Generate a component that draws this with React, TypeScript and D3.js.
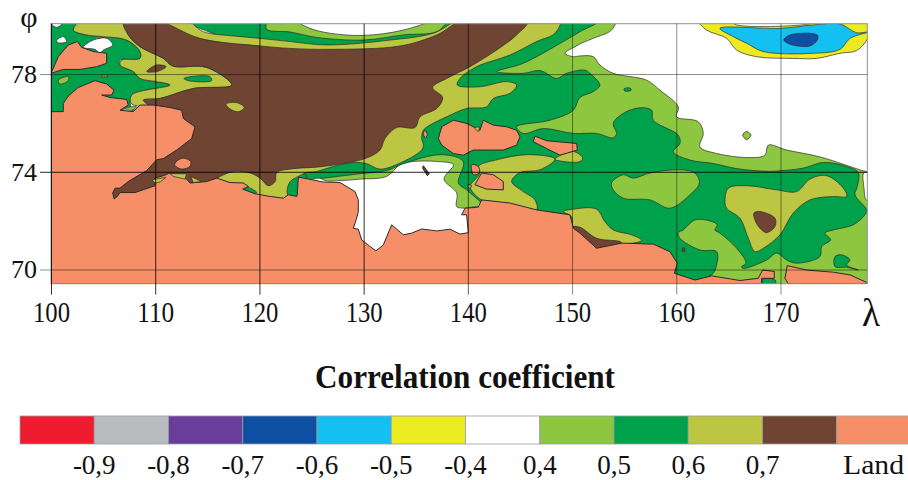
import React, { useEffect, useRef } from "react";
import * as d3 from "d3";

type Pt = [number, number];

// lon / lat, one list per contour area
const lonTicks = [100, 110, 120, 130, 140, 150, 160, 170];
const latTicks = [70, 74, 78];
const legendColors = ["#ee1c2e", "#b8bcbe", "#6a3d9a", "#0e4fa3", "#14c0f2", "#ecea20", "#ffffff", "#8dc63f", "#00a14b", "#bcc643", "#6f4433", "#f68e68"];
const legendLabels = ["-0,9", "-0,8", "-0,7", "-0,6", "-0,5", "-0,4", "0,4", "0,5", "0,6", "0,7"];

const lightGreenMain: Pt[] = [[120.54,80.2],[154.11,80.2],[153.79,79.8],[152.03,79.46],[150.75,79.23],[150.43,79.15],[149.32,78.85],[150.12,78.71],[150.75,78.74],[152.03,78.71],[152.67,78.37],[153.95,78.03],[157.15,77.75],[158.43,77.34],[160.19,76.66],[160.03,76.25],[162.11,76.05],[162.59,75.57],[162.27,75.02],[163.87,74.75],[167.07,74.58],[168.51,74.68],[168.83,75.09],[170.59,74.89],[173.79,74.61],[178.33,74],[178.6,74],[178.6,69.2],[159,69.2],[141.3,72],[141,72.55],[139.72,72.51],[138.93,72.58],[138.93,73.13],[137.71,73.7],[138.61,74.29],[137.01,74.42],[134.77,74.42],[133.49,74.29],[132.21,73.81],[129.65,73.7],[127.73,73.64],[126.13,73.67],[124.5,74.49],[120.54,78.5]];
const lightGreenWest: Pt[] = [[99.5,80.2],[101.5,80.2],[101.18,79.8],[101.82,79.6],[104.38,79.46],[106.14,79.46],[107.42,79.12],[107.1,78.85],[105.66,78.85],[104.7,78.92],[103.42,79.19],[100.86,79.46],[99.5,79.6]];
const lightSpotA: Pt[] = [[100.7,77.75],[101.66,77.89],[101.66,77.73],[100.86,77.59]];
const lightSpotB: Pt[] = [[107.74,76.66],[108.22,76.66],[107.74,76.52],[107.1,76.59]];
const lightCentral: Pt[] = [[153.79,73.54],[154.91,73.88],[155.87,73.74],[157.47,73.95],[160.35,74.08],[161.79,73.95],[162.21,73.54],[161.31,73.06],[159.39,72.51],[157.47,72.85],[154.91,72.92],[153.95,73.26]];
const lightDot: Pt[] = [[166.37,75.5],[166.75,75.65],[167.17,75.5],[166.75,75.32]];

const greenMain: Pt[] = [[113.02,80.2],[120.54,80.2],[120.7,79.83],[122.94,79.72],[125.49,79.5],[129.97,79.39],[133.81,79.6],[137.01,79.73],[138.45,80.2],[152.61,80.2],[150.75,79.73],[149.16,79.33],[145.32,78.44],[142.76,78.1],[145.32,78.03],[146.92,78.14],[148.52,77.82],[149.48,78.03],[151.24,78.16],[151.71,78.03],[152.67,77.55],[152.03,77.28],[150.75,77.04],[150.12,76.52],[147.88,76.11],[144.68,75.84],[145.32,75.57],[147.24,75.77],[150.11,75.57],[152.35,75.57],[153.95,75.39],[154.27,75.57],[153.95,75.98],[154.91,76.39],[156.51,76.62],[157.63,76.52],[157.79,76.11],[160.19,75.5],[160.35,75.16],[159.71,74.82],[161.31,74.48],[163.55,74.34],[165.79,74.13],[168.67,74.02],[169.95,74.04],[172.19,74.15],[174.11,74.38],[176.35,74.22],[177.47,73.97],[177.37,73.4],[177.15,73.06],[178.27,72.44],[178.11,72.24],[176.99,71.83],[175.07,71.62],[174.27,71.49],[174.81,71.21],[173.95,70.94],[173.79,70.53],[171.55,70.26],[170.59,70.39],[169.63,70.67],[168.67,70.39],[166.43,70.05],[166.27,70.12],[166.69,70.26],[165.79,70.87],[164.19,71.49],[163.71,71.62],[163.93,71.83],[163.23,71.99],[161.79,72.03],[160.67,71.62],[160.19,71.51],[160.35,71.28],[162.27,70.8],[163.87,70.73],[163.87,70.19],[163.39,69.78],[161.79,69.57],[159.87,69.85],[155,70.5],[143,72.2],[141,72.85],[139.88,73.26],[139.09,73.54],[139.56,74.42],[137.49,74.7],[133.81,74.33],[132.21,74.05],[129.65,73.92],[126.13,73.74],[125.17,73.7],[124.5,73.4],[123,75],[120.5,78.5]];
const greenWest: Pt[] = [[99.5,80.3],[102.46,80.2],[102.14,79.8],[103.42,79.6],[107.26,79.39],[108.54,78.92],[108.54,78.64],[106.62,78.57],[106.62,78.37],[107.9,78.1],[108.54,77.82],[111.42,77.55],[107.74,77.14],[107.74,76.6],[108.2,76.5],[99.5,76.4]];
const greenSpotA: Pt[] = [[112.76,77.82],[113.98,77.92],[115.26,77.89],[115.42,77.73],[113.18,77.73]];
const greenSpotB: Pt[] = [[123.6,73.78],[122.95,73.6],[122.65,73.2],[122.8,73.0],[123.3,72.98],[124.3,72.7],[124.4,73.9]];
const greenSpotC: Pt[] = [[118.46,73.4],[118.94,73.37],[119.74,73.15],[118.94,73.13]];
const greenSpotD: Pt[] = [[154.98,77.39],[155.55,77.43],[155.68,77.34],[155.07,77.3]];
const greenSpotE: Pt[] = [[175.23,70.53],[175.87,70.6],[176.67,70.39],[176.35,70.19],[177.47,69.98],[176.35,70.09],[175.23,70.12]];
const greenSpotF: Pt[] = [[168.29,69.6],[169.4,69.6],[169.56,69.46],[168.29,69.44]];

const oliveMain: Pt[] = [[139.25,80.2],[148.84,80.2],[148.36,79.67],[146.6,79.33],[144.04,78.78],[140.84,78.3],[139.25,77.82],[138.99,77.55],[141.16,77.48],[143.72,77.69],[144.68,77.55],[144.04,77.21],[142.44,77],[141.8,76.66],[139.88,76.59],[137.97,76.25],[136.37,75.91],[135.73,75.7],[135.57,75.36],[135.73,75.09],[135.57,74.89],[133.81,74.42],[131.57,74.11],[130.29,74.33],[129.01,74.38],[127.09,74.22],[125.49,74.01],[124.2,73.9],[124.2,72.8],[118.9,73.1],[116,73.5],[115.9,73.74],[117.5,74.36],[114.3,78.57],[110.14,80.2],[113.02,80.2],[114.62,79.73],[117.5,79.56],[120.06,79.46],[122.94,79.33],[126.45,79.19],[132.53,79.39],[136.69,79.67]];
const oliveWest: Pt[] = [[102.14,79.8],[103.1,80.2],[106.94,80.2],[107.42,79.6],[108.54,79.12],[110.78,78.64],[111.68,78.33],[114.94,78.27],[117.34,77.55],[113.66,77.41],[110.46,77],[108.86,76.93],[109.34,76.73],[107.74,76.77],[107.74,77.14],[111.42,77.55],[110.14,77.69],[108.54,77.82],[107.9,78.1],[106.62,78.37],[106.78,78.57],[108.54,78.64],[108.54,78.92],[107.26,79.39],[105.02,79.53],[103.42,79.6]];
const oliveKotelny: Pt[] = [[141,74.22],[142.76,74.49],[145.8,74.7],[148.36,74.52],[146.92,74.08],[145,73.97],[144.2,73.6],[145.32,73.19],[146.44,72.85],[146.6,72.44],[144.04,72.65],[141.32,72.85],[140.2,73.4],[140.68,73.67],[141.16,73.95]];
const oliveLens: Pt[] = [[148.36,74.52],[150.12,74.83],[151.02,74.56],[150.76,74.42],[149.16,74.42]];
const oliveCoast: Pt[] = [[149.16,72.37],[150.11,72.47],[152.35,72.47],[153.15,71.96],[153.95,71.62],[155.71,71.42],[156.67,71.19],[154.75,71.01],[152.35,70.83],[150.11,71.62],[149.95,72.17]];
const oliveEast: Pt[] = [[164.67,72.85],[165,73.33],[166.75,73.43],[169.63,73.26],[171.55,73.19],[172.83,73.7],[174.43,73.84],[176.03,73.33],[176.35,72.99],[175.07,72.99],[172.83,72.85],[171.23,72.31],[169.95,71.42],[168.35,70.87],[167.55,70.73],[166.91,71.28],[166.11,72.1],[164.83,72.51]];
const oliveSpot: Pt[] = [[116.79,76.77],[117.82,76.83],[118.55,76.63],[117.98,76.46],[117.18,76.57]];
const oliveShoreA: Pt[] = [[109.69,73.67],[111.04,73.77],[110.46,73.58],[109.98,73.54]];
const oliveShoreB: Pt[] = [[111.42,73.92],[113.02,73.92],[112.86,73.7],[111.74,73.81]];
const oliveShoreC: Pt[] = [[113.4,73.81],[114.46,73.6],[113.66,73.56]];
const oliveShoreD: Pt[] = [[140.59,75.81],[141.16,75.84],[141,75.64]];

const brownMain: Pt[] = [[106.94,80.2],[110.14,80.2],[114.3,79.46],[120.06,79.15],[122.94,79.05],[126.77,79.01],[133.49,79.15],[137.01,79.6],[139.56,80.2],[145.8,80.2],[144.68,79.6],[142.76,78.98],[140.2,78.3],[137.97,77.82],[136.62,77.45],[137.58,77.04],[137.01,76.59],[135.41,76.25],[134.93,75.81],[133.17,75.81],[132.05,75.36],[131.57,74.89],[130.13,74.54],[126.13,74.22],[122.94,74.11],[121.66,73.97],[121.5,73.6],[120.86,73.43],[120.06,73.74],[119.1,73.95],[117.5,74.01],[115.9,73.74],[114,73.3],[108,72.9],[105.5,72.8],[105.6,73.6],[109,74.5],[112,76],[109.5,76.6],[109.34,76.73],[108.86,76.93],[110.46,77],[113.66,77.41],[117.34,77.55],[114.94,78.27],[111.68,78.33],[110.78,78.64],[108.54,79.12],[107.42,79.6]];
const brownCoast: Pt[] = [[149.95,71.73],[150.75,71.73],[152.35,71.28],[154.75,71.1],[154.27,70.8],[152.35,70.8],[149.95,71.35]];
const brownEast: Pt[] = [[167.45,72.31],[168.03,72.37],[169.47,72.1],[169.47,71.76],[168.67,71.51],[168.03,71.69],[167.55,72.03]];
const brownSmall: Pt[] = [[109.18,78.1],[110.14,78.37],[111.04,78.3],[110.14,78.1]];
const brownDot: Pt[] = [[160.6,70.88],[160.8,70.88],[160.8,70.74],[160.6,70.74]];
const brownSliver: Pt[] = [[135.73,74.25],[136.3,73.92],[136.11,73.84],[135.66,74.15]];

const whiteNorth: Pt[] = [[123.57,80.2],[136.37,80.2],[133.81,79.8],[129.97,79.58],[126.77,79.67],[124.85,79.87]];
const whiteSpotA: Pt[] = [[103.1,79.09],[104.06,79.39],[105.34,79.46],[105.92,79.19],[105.02,78.98],[104.7,78.85],[104.22,79.01]];
const whiteSpotB: Pt[] = [[100.54,79.37],[101.18,79.53],[101.5,79.33],[100.7,79.28]];
const whiteSpotC: Pt[] = [[100,80.1],[101.34,80.2],[100.54,79.91]];
const whiteSpotD: Pt[] = [[106.78,76.52],[107.42,76.59],[107.9,76.48]];
const whiteEdge: Pt[] = [[178,73.96],[178.6,73.96],[178.6,72.85],[178.22,72.85],[178.02,73.3]];

const yellowNorth: Pt[] = [[162.11,80.2],[162.91,79.8],[164.83,79.46],[165.79,78.98],[167.71,78.71],[171.23,78.64],[173.47,78.64],[175.71,78.85],[177.31,78.96],[178.33,79.42],[178.7,79.8],[178.7,80.2],[174.11,80.2],[172.51,80.03],[165.79,80.01],[164.99,80.2]];
const yellowSpot: Pt[] = [[104.86,77.96],[105.41,77.96],[105.41,77.89],[104.86,77.89]];
const cyanNorth: Pt[] = [[164.19,79.87],[169.95,79.87],[173.15,80.01],[175.71,80.05],[177.31,79.69],[178.7,79.75],[176.67,79.46],[175.71,79.01],[173.15,78.85],[168.35,78.92],[166.75,79.26],[165.47,79.53]];
const blueNorth: Pt[] = [[170.33,79.39],[170.91,79.6],[173.53,79.6],[173.53,79.39],[172.83,79.15],[170.91,79.22]];

const landMain: Pt[] = [[100,69.42],[100,76.46],[101.18,76.46],[101.18,76.8],[101.66,77.1],[102.62,77.45],[104.22,77.73],[105.34,77.59],[106.05,77.34],[105.82,77.14],[104.86,77.14],[105.66,77.04],[106.46,77],[107.26,76.96],[107.42,76.73],[106.62,76.52],[107.9,76.46],[108.54,76.73],[109.82,76.73],[111.42,76.63],[112.54,76.52],[112.7,76.18],[113.82,75.84],[113.5,75.36],[112.06,74.89],[110.78,74.54],[110.14,74.49],[109.18,74.05],[107.42,73.6],[106.62,73.33],[106.14,73.33],[105.92,73.13],[106.05,72.89],[106.37,72.99],[106.62,73.15],[108.06,73.15],[109.98,73.43],[109.98,73.74],[110.78,73.84],[111.42,73.95],[113.02,73.7],[113.34,73.54],[114.94,73.6],[115.9,73.74],[117.18,73.56],[118.46,73.54],[118.94,73.4],[118.39,73.29],[119.58,73.1],[121.02,72.99],[122.3,72.92],[122.78,73.06],[123.58,72.99],[123.63,73.06],[123.73,73.78],[125.11,73.67],[126.13,73.58],[127.73,73.56],[129.17,73.19],[129.49,72.85],[129.49,72.37],[129.33,72.1],[129.01,71.69],[129.49,71.65],[129.81,71.21],[131.18,70.76],[131.89,71.01],[132.69,71.83],[133.81,71.42],[134.61,71.49],[135.57,71.66],[137.01,71.58],[138.29,71.65],[139.25,71.45],[140.04,71.51],[139.88,72.24],[139.4,72.24],[139.72,72.51],[141,72.55],[141.32,72.85],[144.04,72.72],[146.6,72.44],[149.8,72.24],[150.12,71.69],[150.75,71.49],[152.35,70.87],[154.75,71.08],[157.79,71.04],[159.39,70.73],[160.1,70.26],[159.81,69.85],[161.79,69.57],[163.39,69.74],[166.11,69.55],[167.87,69.64],[168.29,69.98],[169.4,69.92],[169.4,69.64],[168.19,69.64],[168.19,69.42]];
const landEast: Pt[] = [[170.75,69.42],[170.43,69.64],[170.65,70.16],[172.51,69.98],[175.07,69.89],[176.67,69.78],[178.33,69.46],[178.33,69.42]];
const landNorth: Pt[] = [[100,78.03],[100.7,78.71],[101.66,79.19],[102.53,79.33],[102.94,79.09],[104.06,78.92],[105.34,78.85],[105.34,78.44],[104.38,78.3],[102.78,78.19],[101.18,78.19]];
const landIslet: Pt[] = [[111.9,74.36],[112.64,74.56],[113.4,74.42],[113.34,74.22],[112.54,74.11],[111.9,74.25]];
const landKotelny: Pt[] = [[137.49,75.84],[138.61,76.11],[139.88,75.98],[140.68,75.81],[141.16,75.7],[141.48,76.11],[142.44,75.91],[143.72,75.84],[144.68,75.7],[145,75.43],[144.68,75.09],[143.4,74.89],[142.12,74.89],[140.52,74.89],[139.56,74.68],[138.61,74.75],[137.49,75.09],[137.17,75.36]];
const landFaddey: Pt[] = [[146.44,75.46],[147.56,75.27],[150.44,75.16],[150.51,74.89],[148.84,74.68],[147.56,74.95],[146.28,75.23]];
const landDotA: Pt[] = [[135.89,75.7],[136.11,75.5],[135.89,75.4],[135.73,75.57]];
const landDotB: Pt[] = [[140.36,74.29],[141,74.22],[141.1,73.95],[140.52,73.88],[140.36,74.08]];
const landLyakhov: Pt[] = [[141.32,73.95],[142.44,73.88],[143.4,73.6],[143.4,73.26],[141.8,73.29],[140.68,73.47]];
const landDotC: Pt[] = [[140.04,73.47],[140.36,73.43],[140.2,73.33],[139.98,73.37]];

const GREEN_L = "#8dc63f", GREEN = "#00a14b", OLIVE = "#bcc643", BROWN = "#6f4433", LAND = "#f68e68";

export default function App() {
  const svgRef = useRef<SVGSVGElement>(null);

  useEffect(() => {
    const svg = d3.select(svgRef.current);
    svg.selectAll("*").remove();
    const serif = "'Liberation Serif', serif";

    const x = d3.scaleLinear().domain([100, 178.33]).range([51, 867.3]);
    const y = d3.scaleLinear().domain([69.42, 80.06]).range([283.7, 23.7]);

    svg.append("clipPath").attr("id", "plot").append("rect")
      .attr("x", x(100)).attr("y", y(80.06))
      .attr("width", x(178.33) - x(100)).attr("height", y(69.42) - y(80.06));

    const map = svg.append("g").attr("clip-path", "url(#plot)");
    map.append("rect").attr("x", 0).attr("y", 0).attr("width", 908).attr("height", 300).attr("fill", "#fff");

    const smooth = d3.line<Pt>().x((d) => x(d[0])).y((d) => y(d[1])).curve(d3.curveCatmullRomClosed.alpha(0.5));
    const jagged = d3.line<Pt>().x((d) => x(d[0])).y((d) => y(d[1])).curve(d3.curveLinearClosed);

    const draw = (areas: Pt[][], color: string, line = smooth, edge = 0.7) => {
      map.append("g").selectAll("path").data(areas).enter().append("path")
        .attr("d", (d) => line(d))
        .attr("fill", color)
        .attr("stroke", "#2b2b2b")
        .attr("stroke-width", edge)
        .attr("stroke-linejoin", "round");
    };

    draw([lightGreenMain, lightGreenWest], GREEN_L);
    draw([greenMain, greenWest], GREEN);
    draw([lightSpotA, lightCentral, lightDot], GREEN_L);
    draw([oliveMain, oliveWest, oliveKotelny, oliveLens, oliveCoast, oliveEast], OLIVE);
    draw([brownMain, brownCoast, brownEast, brownSmall, brownDot], BROWN);
    draw([oliveSpot], OLIVE);
    draw([greenSpotA, greenSpotB, greenSpotC, greenSpotD, greenSpotE, greenSpotF], GREEN);
    draw([whiteNorth, whiteSpotA, whiteSpotB, whiteSpotC, whiteSpotD, whiteEdge], "#fff");
    draw([lightSpotB], GREEN_L);
    draw([yellowNorth], "#ecea20");
    draw([yellowSpot], OLIVE, jagged);
    draw([cyanNorth], "#14c0f2");
    draw([blueNorth], "#0e4fa3");
    draw([landMain, landEast, landNorth, landKotelny, landFaddey, landLyakhov], LAND, jagged, 1);
    draw([landIslet, landDotA, landDotB, landDotC], LAND, smooth, 0.9);
    draw([oliveShoreA, oliveShoreB, oliveShoreC, oliveShoreD], OLIVE, jagged);
    draw([brownSliver], BROWN, jagged, 1);

    // grid lines run past the frame as ticks
    const meridianAlpha = (v: number) => (v <= 130 ? 0.8 : v === 140 ? 0.6 : 0.45);
    const parallelAlpha = (v: number) => (v === 74 ? 0.85 : 0.45);

    svg.append("rect")
      .attr("x", x(100)).attr("y", y(80.06))
      .attr("width", x(178.33) - x(100)).attr("height", y(69.42) - y(80.06))
      .attr("fill", "none").attr("stroke", "#8e9399").attr("stroke-width", 1);

    const bottom = svg.append("g").attr("transform", `translate(0,${y(80.06)})`)
      .call(d3.axisBottom(x).tickValues(lonTicks).tickSize(y(69.42) - y(80.06) + 11).tickFormat(d3.format("d") as any));
    bottom.select(".domain").remove();
    bottom.selectAll<SVGLineElement, number>(".tick line").attr("stroke", "#000").attr("stroke-opacity", (d) => meridianAlpha(d));
    // the reference's numbers are taller than they are wide
    bottom.selectAll(".tick text")
      .attr("y", 322 - y(80.06)).attr("dy", 0)
      .attr("textLength", 37).attr("lengthAdjust", "spacingAndGlyphs")
      .attr("fill", "#111").style("font-family", serif).style("font-size", "29px");

    const left = svg.append("g").attr("transform", `translate(${x(178.33)},0)`)
      .call(d3.axisLeft(y).tickValues(latTicks).tickSize(x(178.33) - x(100) + 11).tickPadding(3).tickFormat(d3.format("d") as any));
    left.select(".domain").remove();
    left.selectAll<SVGLineElement, number>(".tick line").attr("stroke", "#000").attr("stroke-opacity", (d) => parallelAlpha(d));
    left.selectAll(".tick text").attr("fill", "#111").style("font-family", serif).style("font-size", "26px");

    svg.append("text").text("φ").attr("x", 29).attr("y", 27).attr("text-anchor", "middle")
      .style("font-family", serif).style("font-size", "30px").attr("fill", "#111");
    svg.append("text").text("λ").attr("x", 862).attr("y", 326)
      .attr("textLength", 18).attr("lengthAdjust", "spacingAndGlyphs")
      .style("font-family", serif).style("font-size", "40px").attr("fill", "#111");

    svg.append("text").text("Correlation coefficient").attr("x", 315).attr("y", 388)
      .attr("textLength", 300).attr("lengthAdjust", "spacingAndGlyphs")
      .style("font-family", serif).style("font-size", "33px").style("font-weight", "bold").attr("fill", "#111");

    // colour key
    const key = d3.scaleLinear().domain([0, legendColors.length]).range([20, 911]);
    svg.append("g").selectAll("rect").data(legendColors).enter().append("rect")
      .attr("x", (_, i) => key(i)).attr("y", 416)
      .attr("width", (_, i) => key(i + 1) - key(i)).attr("height", 28)
      .attr("fill", (d) => d).attr("stroke", "#9a9ea2").attr("stroke-width", 0.8);

    svg.append("g").selectAll("text").data(legendLabels).enter().append("text")
      .text((d) => d).attr("x", (_, i) => key(i + 1)).attr("y", 474).attr("text-anchor", "middle")
      .style("font-family", serif).style("font-size", "27px").attr("fill", "#111");
    svg.append("text").text("Land").attr("x", 843).attr("y", 474)
      .attr("textLength", 61).attr("lengthAdjust", "spacingAndGlyphs")
      .style("font-family", serif).style("font-size", "28px").attr("fill", "#111");
  }, []);

  return <svg ref={svgRef} width={908} height={480} style={{ position: "absolute", left: 0, top: 0, display: "block", background: "#fff" }} />;
}
